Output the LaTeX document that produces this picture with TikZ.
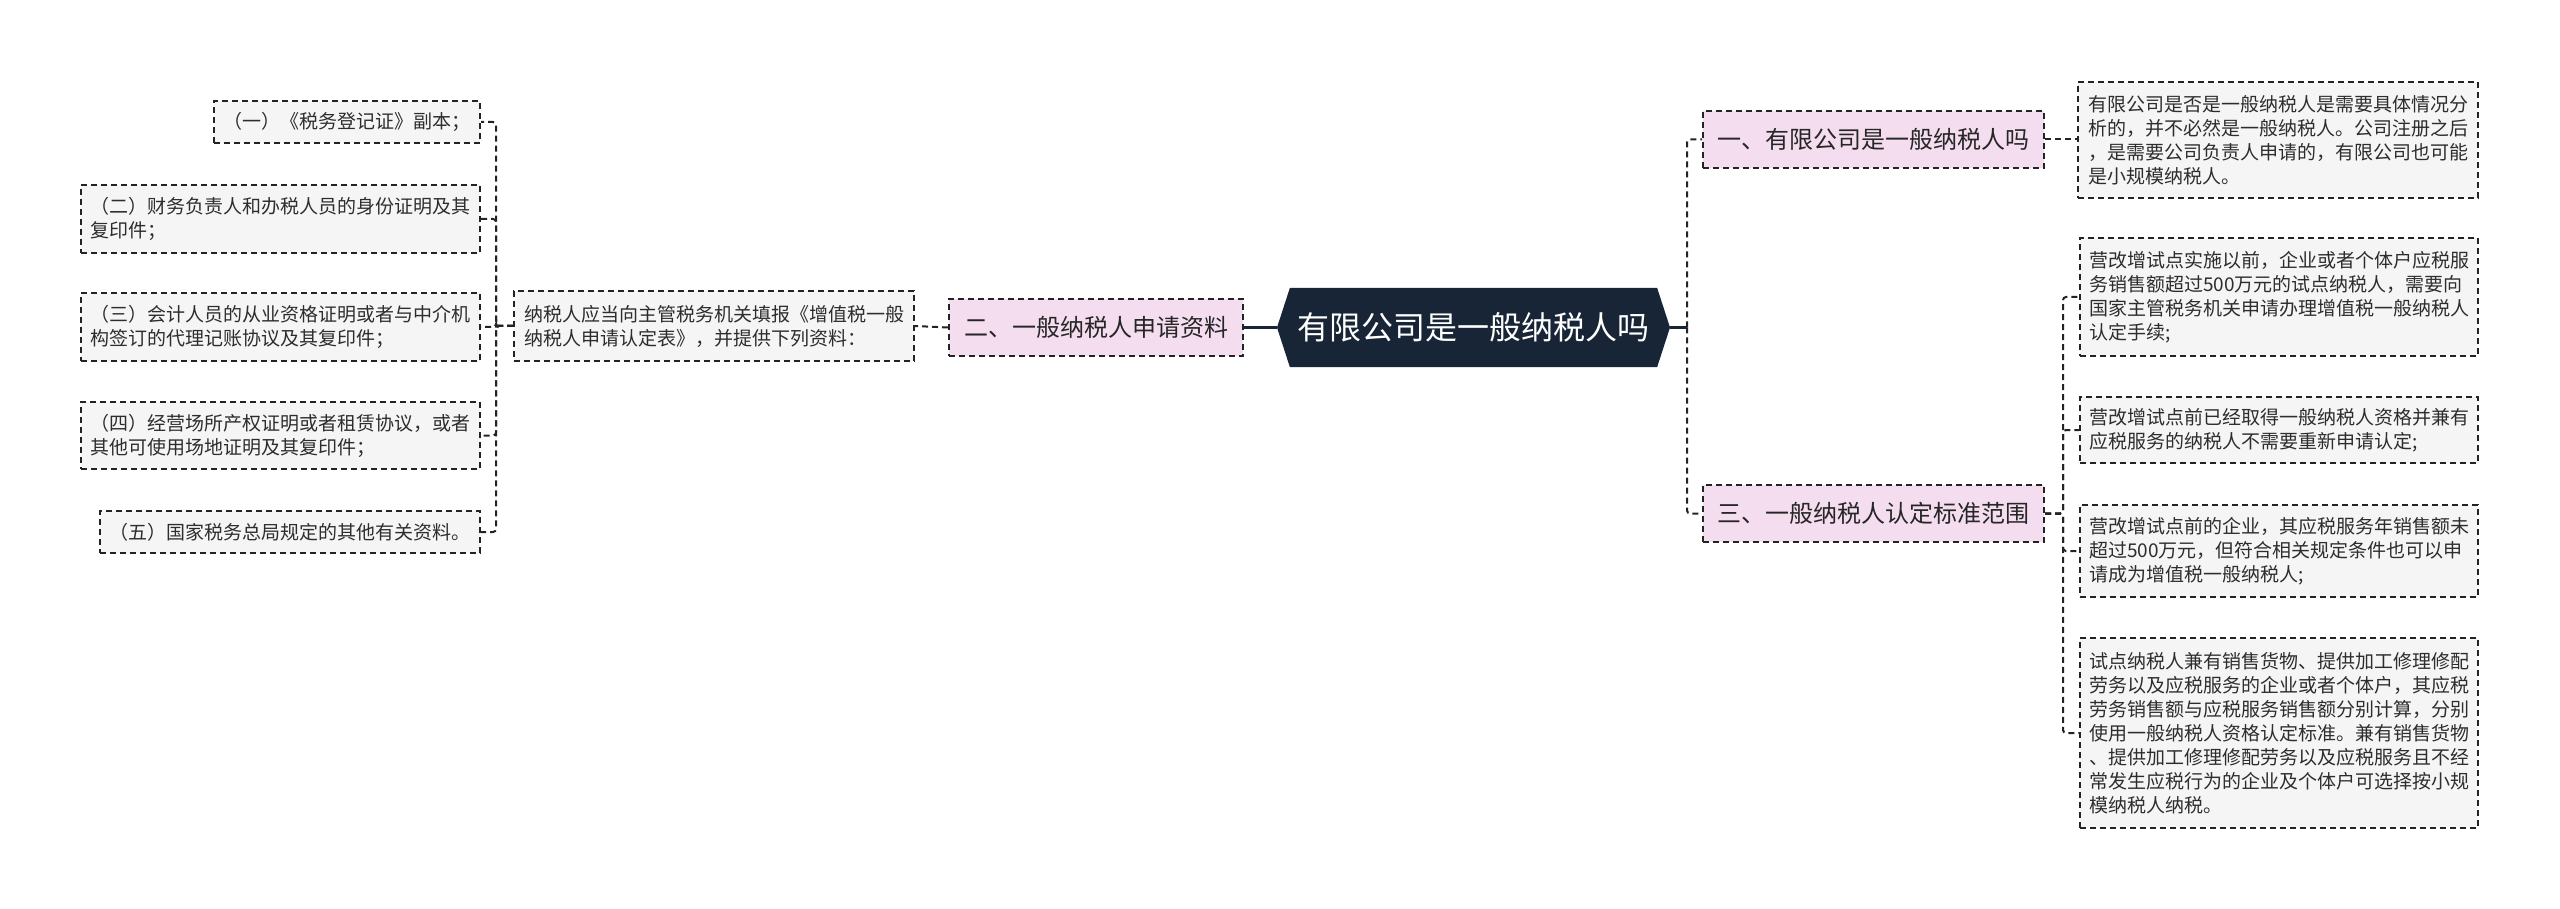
\documentclass[tikz,border=0pt]{standalone}
\usepackage{fontspec}
\setmainfont{Noto Sans CJK SC}
\usetikzlibrary{shapes.symbols,positioning}
\definecolor{rootnavy}{RGB}{24,37,54}
\definecolor{branchpink}{RGB}{245,221,240}
\definecolor{leafgray}{RGB}{245,245,245}
\definecolor{inkgray}{RGB}{45,45,45}
\definecolor{edgegray}{RGB}{35,35,35}

\begin{document}
\begin{tikzpicture}[x=1pt,y=-1pt,
  leaf/.style={draw=edgegray,line width=2pt,dash pattern=on 6pt off 4pt,fill=leafgray,text=inkgray,align=left,inner sep=0pt,font=\fontsize{19}{24}\selectfont},
  branch/.style={draw=edgegray,line width=2pt,dash pattern=on 6pt off 4pt,fill=branchpink,text=black!85,inner sep=0pt,minimum height=57pt,font=\fontsize{24}{28}\selectfont},
  link/.style={draw=edgegray,line width=2pt,dash pattern=on 6pt off 4pt,rounded corners=3pt},
  trunk/.style={draw=rootnavy,line width=2.8pt}]
  \useasboundingbox (0,0) rectangle (2560,909);
  % centre
  \node[signal,signal to=west and east,signal pointer angle=144,fill=rootnavy,text=white,inner sep=0pt,minimum width=393pt,minimum height=79pt,font=\fontsize{32}{36}\selectfont] (root) at (1473.5,327.5) {有限公司是一般纳税人吗};
  % left side
  \node[branch,minimum width=294pt] (apply) at (1096,327.5) {二、一般纳税人申请资料};
  \node[leaf,minimum width=400pt,minimum height=70pt] (ask) at (714,326) {纳税人应当向主管税务机关填报《增值税一般\\纳税人申请认定表》，并提供下列资料：};
  \node[leaf,minimum width=266pt,minimum height=42pt] (l1) at (347,122) {（一）《税务登记证》副本；};
  \node[leaf,minimum width=399pt,minimum height=68pt] (l2) at (280.5,219) {（二）财务负责人和办税人员的身份证明及其\\复印件；};
  \node[leaf,minimum width=399pt,minimum height=68pt] (l3) at (280.5,327) {（三）会计人员的从业资格证明或者与中介机\\构签订的代理记账协议及其复印件；};
  \node[leaf,minimum width=399pt,minimum height=67pt] (l4) at (280.5,435.5) {（四）经营场所产权证明或者租赁协议，或者\\其他可使用场地证明及其复印件；};
  \node[leaf,minimum width=380pt,minimum height=42pt] (l5) at (290,532) {（五）国家税务总局规定的其他有关资料。};
  \draw[trunk] (root.west) -- (apply.east);
  \draw[link] (apply.west) -- (ask.east);
  \foreach \i in {1,...,5}
    \draw[link] (ask.west) -- ++(-17,0) |- (l\i.east);
  % right side
  \node[branch,minimum width=341pt] (q1) at (1873.5,139.5) {一、有限公司是一般纳税人吗};
  \node[branch,minimum width=341pt] (q3) at (1873.5,513.5) {三、一般纳税人认定标准范围};
  \coordinate (rj) at (1687,327.5);
  \draw[trunk] (root.east) -- (rj);
  \draw[link] (rj) |- (q1.west);
  \draw[link] (rj) |- (q3.west);
  \node[leaf,minimum width=400pt,minimum height=116pt] (r1) at (2278,140) {有限公司是否是一般纳税人是需要具体情况分\\析的，并不必然是一般纳税人。公司注册之后\\，是需要公司负责人申请的，有限公司也可能\\是小规模纳税人。};
  \draw[link] (q1.east) -- (r1.west |- q1.east);
  \node[leaf,minimum width=398pt,minimum height=118pt] (b1) at (2279,297) {营改增试点实施以前，企业或者个体户应税服\\务销售额超过500万元的试点纳税人，需要向\\国家主管税务机关申请办理增值税一般纳税人\\认定手续;};
  \node[leaf,minimum width=398pt,minimum height=66pt] (b2) at (2279,430) {营改增试点前已经取得一般纳税人资格并兼有\\应税服务的纳税人不需要重新申请认定;};
  \node[leaf,minimum width=398pt,minimum height=92pt] (b3) at (2279,551) {营改增试点前的企业，其应税服务年销售额未\\超过500万元，但符合相关规定条件也可以申\\请成为增值税一般纳税人;};
  \node[leaf,minimum width=398pt,minimum height=190pt] (b4) at (2279,733) {试点纳税人兼有销售货物、提供加工修理修配\\劳务以及应税服务的企业或者个体户，其应税\\劳务销售额与应税服务销售额分别计算，分别\\使用一般纳税人资格认定标准。兼有销售货物\\、提供加工修理修配劳务以及应税服务且不经\\常发生应税行为的企业及个体户可选择按小规\\模纳税人纳税。};
  \foreach \i in {1,...,4}
    \draw[link] (q3.east) -- ++(18,0) |- (b\i.west);
\end{tikzpicture}
\end{document}
